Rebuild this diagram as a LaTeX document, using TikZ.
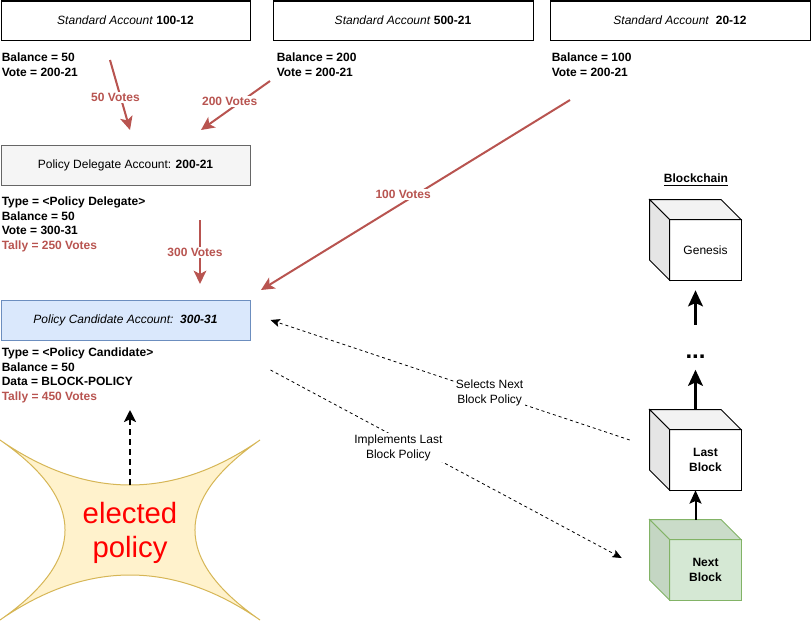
\documentclass[tikz,border=0pt]{standalone}
\usepackage{fontspec}
\setmainfont{Liberation Sans}
\usepackage{xcolor}
\definecolor{votered}{HTML}{B85450}
\definecolor{delegatefill}{HTML}{F5F5F5}
\definecolor{delegatedraw}{HTML}{666666}
\definecolor{candidatefill}{HTML}{DAE8FC}
\definecolor{candidatedraw}{HTML}{6C8EBF}
\definecolor{starfill}{HTML}{FFF2CC}
\definecolor{stardraw}{HTML}{D6B656}
\definecolor{nextfill}{HTML}{D5E8D4}
\definecolor{nexttop}{HTML}{CADCC9}
\definecolor{nextside}{HTML}{C4D6C3}
\definecolor{nextdraw}{HTML}{82B366}
\usetikzlibrary{arrows.meta,positioning,calc}

\tikzset{
  acctbox/.style={draw, fill=white, line width=0.75pt, inner sep=0, minimum height=29.25pt},
  infotext/.style={inner sep=0, align=left, font=\fontsize{9}{10.8}\selectfont\bfseries},
  votearrow/.style={draw=votered, line width=1.5pt, -{Stealth[length=10pt,width=9.5pt,inset=2.5pt]}},
  votelabel/.style={fill=white, text=votered, inner sep=1pt, font=\fontsize{9}{11}\selectfont\bfseries},
  chainarrow/.style={line width=2.25pt, -{Stealth[length=12pt,width=11pt,inset=2.5pt]}},
  policyarrow/.style={line width=0.6pt, dash pattern=on 2.25pt off 2.25pt, -{Stealth[length=7pt,width=6pt,inset=1.5pt]}},
  policylabel/.style={fill=white, inner sep=1pt, align=center, font=\fontsize{9}{11.2}\selectfont},
  cubebox/.style={inner sep=0, minimum width=68.25pt, minimum height=60pt},
}

% cube: name, centre, front fill, stroke, top fill, side fill
\newcommand{\blockcube}[6]{%
  \node[cubebox] (#1) at (#2) {};
  \filldraw[fill=#3, draw=#4, line width=0.75pt] ($(#1.north west)+(20,20)$) rectangle (#1.south east);
  \filldraw[fill=#5, draw=#4, line width=0.75pt] (#1.north west) -- ($(#1.north east)+(-20,0)$) -- ($(#1.north east)+(0,20)$) -- ($(#1.north west)+(20,20)$) -- cycle;
  \filldraw[fill=#6, draw=#4, line width=0.75pt] (#1.north west) -- ($(#1.north west)+(20,20)$) -- ($(#1.south west)+(20,0)$) -- ($(#1.south west)+(0,-20)$) -- cycle;
}

\begin{document}
\begin{tikzpicture}[x=0.75pt,y=-0.75pt,font=\fontsize{9}{11}\selectfont]
    \useasboundingbox (0,0) rectangle (811,621);

    % standard accounts
    \node[acctbox, minimum width=186.75pt] (acctA) at (125.5,20.5) {\textit{Standard Account} \textbf{100-12}};
    \node[acctbox, minimum width=195pt] (acctB) at (403,20.5) {\textit{Standard Account} \textbf{500-21}};
    \node[acctbox, minimum width=195pt] (acctC) at (680,20.5) {\textit{Standard Account}\ \ \textbf{20-12}};

    \node[infotext, below right=9.4pt and 0.75pt of acctA.south west] (acctAinfo) {Balance = 50\\Vote = 200-21};
    \node[infotext, below right=9.4pt and 3pt of acctB.south west] (acctBinfo) {Balance = 200\\Vote = 200-21};
    \node[infotext, below right=9.4pt and 1.5pt of acctC.south west] (acctCinfo) {Balance = 100\\Vote = 200-21};

    % delegate and candidate
    \node[acctbox, fill=delegatefill, draw=delegatedraw, minimum width=186.75pt, minimum height=30pt] (delegate) at (125.5,165) {Policy Delegate Account: \textbf{200-21}};
    \node[infotext, below right=8.6pt and 0.75pt of delegate.south west] (delegateinfo) {Type = <Policy Delegate>\\Balance = 50\\Vote = 300-31\\\textcolor{votered}{Tally = 250 Votes}};

    \node[acctbox, fill=candidatefill, draw=candidatedraw, minimum width=186.75pt, minimum height=30pt] (candidate) at (125.5,320) {\textit{Policy Candidate Account:\ \ \textbf{300-31}}};
    \node[infotext, below right=5.6pt and 0.75pt of candidate.south west] (candidateinfo) {Type = <Policy Candidate>\\Balance = 50\\Data = BLOCK-POLICY\\\textcolor{votered}{Tally = 450 Votes}};

    % votes
    \coordinate (v50s) at (110,60);
    \coordinate (v50e) at (130,130);
    \coordinate (v200s) at (270,81);
    \coordinate (v200e) at (201,130);
    \coordinate (v300s) at (200,220);
    \coordinate (v300e) at (200,284);
    \coordinate (v100s) at (570,100);
    \coordinate (v100e) at (261,290);
    \draw[votearrow] (v50s) -- node[votelabel, pos=0.54, xshift=-4pt] (v50text) {50 Votes} (v50e);
    \draw[votearrow] (v200s) -- node[votelabel, pos=0.42, xshift=-8.5pt] (v200text) {200 Votes} (v200e);
    \draw[votearrow] (v300s) -- node[votelabel, pos=0.51, xshift=-3.75pt] (v300text) {300 Votes} (v300e);
    \draw[votearrow] (v100s) -- node[votelabel, pos=0.54, yshift=6pt] (v100text) {100 Votes} (v100e);

    % blockchain
    \node[font=\fontsize{9}{11}\selectfont\bfseries] (chainlabel) at (696,180) {\underline{Blockchain}};
    \blockcube{genesis}{695.5,240}{white}{black}{black!5}{black!10}
    \node (genesistext) at ($(genesis.center)+(10,10)$) {Genesis};
    \blockcube{last}{695.5,450}{white}{black}{black!5}{black!10}
    \node[align=center, font=\fontsize{9}{11}\selectfont\bfseries] (lasttext) at ($(last.center)+(10,10)$) {Last\\Block};
    \blockcube{next}{695.5,560}{nextfill}{nextdraw}{nexttop}{nextside}
    \node[align=center, font=\fontsize{9}{11}\selectfont\bfseries] (nexttext) at ($(next.center)+(10,10)$) {Next\\Block};

    \node[inner sep=0, font=\fontsize{18}{18}\selectfont\bfseries] (dots) at (695.5,357) {...};
    \draw[chainarrow, shorten <=22.5pt, shorten >=7.5pt] (dots) -- (genesis);
    \draw[chainarrow, shorten >=8pt] (last) -- (dots);
    \draw[line width=1.5pt, -{Stealth[length=10pt,width=9pt,inset=2pt]}] (next) -- (last);

    % policy links
    \draw[policyarrow] ($(last.west)+(-20,-10)$) -- node[policylabel, pos=0.39] (selecttext) {Selects Next\\Block Policy} ($(candidate.east)+(20,0)$);
    \draw[policyarrow] ($(candidate.east)+(20,50)$) -- node[policylabel, pos=0.364, yshift=-7pt] (implementtext) {Implements Last\\Block Policy} ($(next.west)+(-28,-2)$);

    % elected policy
    \filldraw[fill=starfill, draw=stardraw, line width=0.75pt] (0,440) .. controls (86.7,500) and (173.3,500) .. (260,440)
        .. controls (173.3,500) and (173.3,560) .. (260,620)
        .. controls (173.3,560) and (86.7,560) .. (0,620)
        .. controls (86.7,560) and (86.7,500) .. (0,440) -- cycle;
    \node[align=center, text={rgb,255:red,255;green,0;blue,0}, font=\fontsize{22}{26}\selectfont] (elected) at (130,533) {elected\\policy};
    \coordinate (electedtop) at (130,485);
    \coordinate (candidatetally) at (130,410);
    \draw[line width=1.5pt, dash pattern=on 4.5pt off 3pt, -{Stealth[length=9pt,width=9pt,inset=2pt]}] (electedtop) -- (candidatetally);
\end{tikzpicture}
\end{document}
